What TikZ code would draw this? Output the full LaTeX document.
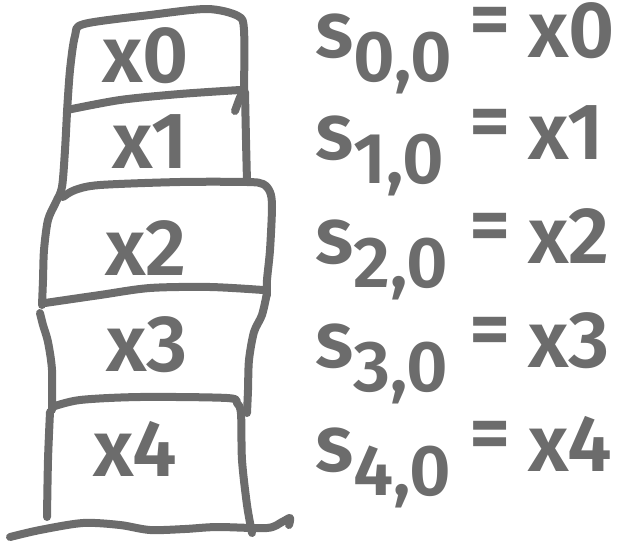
\documentclass[tikz,border=0pt]{standalone}
\usepackage{fontspec}
\setmainfont{Fira Sans}
\newfontfamily\semibold{Fira Sans SemiBold}
\usepackage{tikz}
\definecolor{inkgray}{RGB}{108,108,108}
\tikzset{
  stroke/.style={draw=inkgray, line width=8pt, line cap=round, line join=round},
  boxlabel/.style={text=inkgray, anchor=base, inner sep=0pt, font=\semibold\fontsize{80}{90}\selectfont},
  eqpart/.style={text=inkgray, anchor=base west, inner sep=0pt, font=\semibold\fontsize{80}{90}\selectfont},
  subpart/.style={text=inkgray, anchor=base west, inner sep=0pt, font=\semibold\fontsize{72}{80}\selectfont}
}

\begin{document}
\begin{tikzpicture}[x=1pt,y=-1pt]
\useasboundingbox (0,0) rectangle (619,541);
% Stack outline, hand drawn
\draw[stroke] plot[smooth] coordinates {(67,112) (70,70) (75,36) (84,24) (150,15) (207,9) (238,16) (244,30) (244,90)};
\draw[stroke] plot[smooth] coordinates {(67,110) (120,100) (180,94) (240,90)};
\draw[stroke] plot[smooth] coordinates {(235,111) (239,100) (242,93)};
\draw[stroke] plot[smooth] coordinates {(67,112) (65,150) (62,187) (56,202) (48,220) (44,250) (43,280) (42,305)};
\draw[stroke] plot[smooth] coordinates {(245,92) (246,140) (247,182)};
\draw[stroke] plot[smooth] coordinates {(63,197) (75,190) (100,185) (180,182) (247,182) (263,184) (270,192) (272,207) (270,250) (267,280) (267,295)};
\draw[stroke] plot[smooth] coordinates {(45,303) (100,295) (150,288) (210,287) (263,290)};
\draw[stroke] plot[smooth] coordinates {(40,313) (43,325) (48,342) (52,370) (52,410)};
\draw[stroke] plot[smooth] coordinates {(267,293) (262,315) (254,332) (249,360) (248,390) (247,413)};
\draw[stroke] plot[smooth] coordinates {(52,407) (80,400) (140,397) (227,398) (237,403) (241,414) (242,460) (247,505) (252,533)};
\draw[stroke] plot[smooth] coordinates {(50,412) (48,460) (47,517)};
% Ground
\draw[stroke] plot[smooth] coordinates {(10,537) (40,530) (83,523) (120,525) (150,530) (185,529) (217,527) (267,528) (282,522) (290,518) (289,525)};
% Box labels
\node[boxlabel] (x0) at (146,82) {x0};
\node[boxlabel] (x1) at (150,168) {x1};
\node[boxlabel] (x2) at (146,275) {x2};
\node[boxlabel] (x3) at (147,371) {x3};
\node[boxlabel] (x4) at (135,476) {x4};
% Equations
\foreach \i/\y in {0/57,1/159,2/263,3/367,4/471}{
  \node[eqpart] (s\i) at (315,\y) {s};
  \node[subpart] (sub\i) at (353,\y+24) {\i,0};
  \node[eqpart] (eq\i) at (469,\y-11) {=};
  \node[eqpart] (rhs\i) at (528,\y) {x\i};
}
\end{tikzpicture}
\end{document}
